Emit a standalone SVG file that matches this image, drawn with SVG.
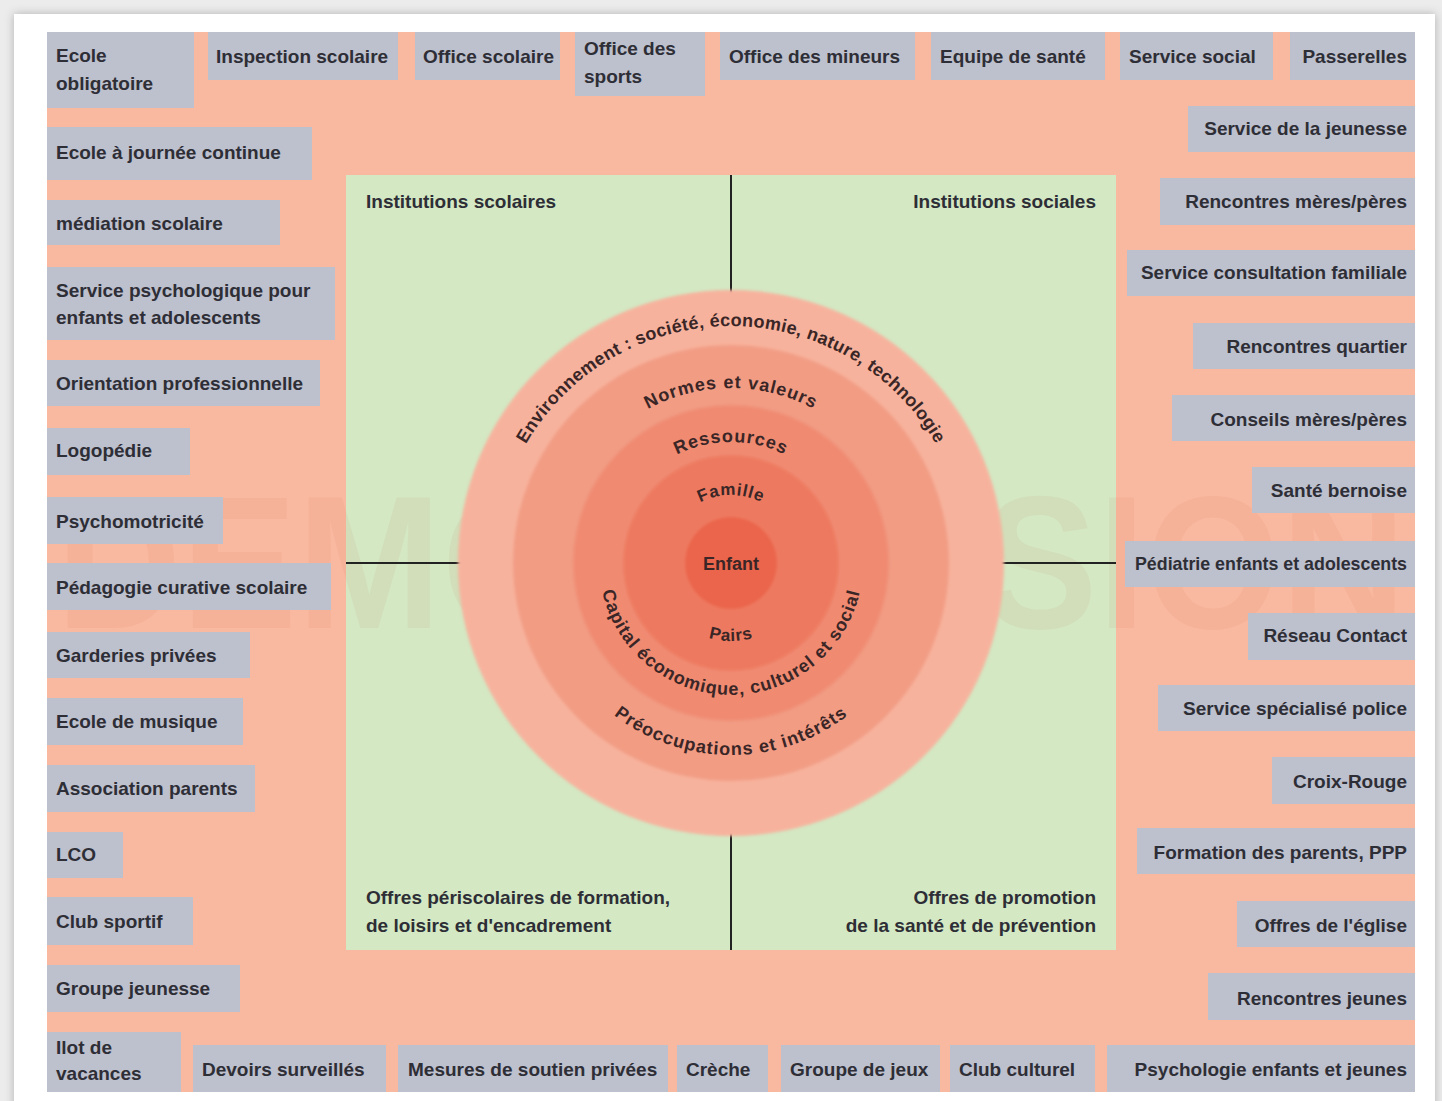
<svg xmlns="http://www.w3.org/2000/svg" width="1442" height="1101" viewBox="0 0 1442 1101">
  <defs>
    <style>
      .box rect { fill: #bdc0cd; }
      .box text { font-family: "Liberation Sans", Arial, sans-serif; font-weight: bold; font-size: 19px; fill: #2e2e36; }
      .box.r text { text-anchor: end; }
      .quad { font-family: "Liberation Sans", Arial, sans-serif; font-weight: bold; font-size: 19px; fill: #2e2e36; }
      .quad.r { text-anchor: end; }
      .ring-label { font-family: "Liberation Sans", Arial, sans-serif; font-weight: bold; font-size: 18px; fill: #3a2626; }
      .divider { stroke: #222; stroke-width: 2; fill: none; }
    </style>
    <filter id="cardShadow" x="-5%" y="-5%" width="110%" height="110%">
      <feDropShadow dx="0" dy="0" stdDeviation="5" flood-color="#000" flood-opacity="0.25"/>
    </filter>
    <filter id="soft" x="-10%" y="-10%" width="120%" height="120%">
      <feGaussianBlur stdDeviation="1.5"/>
    </filter>
    <!-- arcs centred on (731,563) for the curved ring captions -->
    <path id="arcEnv" d="M 494 563 A 237 237 0 0 1 968 563"/>
    <path id="arcNormes" d="M 556 563 A 175 175 0 0 1 906 563"/>
    <path id="arcRess" d="M 610 563 A 121 121 0 0 1 852 563"/>
    <path id="arcFam" d="M 663 563 A 68 68 0 0 1 799 563"/>
    <path id="arcPairs" d="M 653 563 A 78 78 0 0 0 809 563"/>
    <path id="arcCap" d="M 599 563 A 132 132 0 0 0 863 563"/>
    <path id="arcPreo" d="M 539 563 A 192 192 0 0 0 923 563"/>
  </defs>

  <!-- page and card -->
  <rect x="0" y="0" width="1442" height="1101" fill="#ececec"/>
  <rect x="14" y="14" width="1421" height="1100" fill="#ffffff" filter="url(#cardShadow)"/>

  <!-- salmon field and green centre panel -->
  <rect x="47" y="32" width="1368" height="1060" fill="#f9b9a0"/>
  <rect x="346" y="175" width="770" height="775" fill="#d3e8c3"/>

  <!-- faint watermark -->
  <text x="731" y="628" text-anchor="middle" font-family="Liberation Sans, Arial, sans-serif" font-weight="bold" font-size="190" textLength="1350" lengthAdjust="spacingAndGlyphs" fill="#c04a30" opacity="0.06">DEMO VERSION</text>

  <!-- quadrant dividers -->
  <g id="connectors">
    <line class="divider" x1="731" y1="175" x2="731" y2="950"/>
    <line class="divider" x1="346" y1="563" x2="1116" y2="563"/>
  </g>

  <!-- concentric rings -->
  <g id="rings" filter="url(#soft)">
    <circle cx="731" cy="563" r="273" fill="#f7b29d"/>
    <circle cx="731" cy="563" r="218" fill="#f29c84"/>
    <circle cx="731" cy="563" r="158" fill="#f08b72"/>
    <circle cx="731" cy="563" r="108" fill="#ed7a61"/>
    <circle cx="731" cy="563" r="46" fill="#ea654c"/>
  </g>

  <g id="ring-labels" class="ring-label">
    <text letter-spacing="0.3"><textPath href="#arcEnv" startOffset="50%" text-anchor="middle">Environnement : société, économie, nature, technologie</textPath></text>
    <text letter-spacing="1"><textPath href="#arcNormes" startOffset="50%" text-anchor="middle">Normes et valeurs</textPath></text>
    <text letter-spacing="1"><textPath href="#arcRess" startOffset="50%" text-anchor="middle">Ressources</textPath></text>
    <text font-size="17" letter-spacing="0.8"><textPath href="#arcFam" startOffset="50%" text-anchor="middle">Famille</textPath></text>
    <text x="731" y="570" text-anchor="middle">Enfant</text>
    <text font-size="17" letter-spacing="0.8"><textPath href="#arcPairs" startOffset="50%" text-anchor="middle">Pairs</textPath></text>
    <text letter-spacing="0.9"><textPath href="#arcCap" startOffset="50%" text-anchor="middle">Capital économique, culturel et social</textPath></text>
    <text letter-spacing="1"><textPath href="#arcPreo" startOffset="50%" text-anchor="middle">Préoccupations et intérêts</textPath></text>
  </g>

  <!-- quadrant headings -->
  <g id="quadrants">
    <text class="quad" x="366" y="208">Institutions scolaires</text>
    <text class="quad r" x="1096" y="208">Institutions sociales</text>
    <text class="quad" x="366" y="904">Offres périscolaires de formation,</text>
    <text class="quad" x="366" y="932">de loisirs et d'encadrement</text>
    <text class="quad r" x="1096" y="904">Offres de promotion</text>
    <text class="quad r" x="1096" y="932">de la santé et de prévention</text>
  </g>

  <!-- top row -->
  <g id="ecole-obligatoire" class="box"><rect x="47" y="32" width="147" height="76"/><text x="56" y="62">Ecole</text><text x="56" y="90">obligatoire</text></g>
  <g id="inspection-scolaire" class="box"><rect x="208" y="32" width="190" height="48"/><text x="216" y="63">Inspection scolaire</text></g>
  <g id="office-scolaire" class="box"><rect x="415" y="32" width="145" height="48"/><text x="423" y="63">Office scolaire</text></g>
  <g id="office-sports" class="box"><rect x="575" y="32" width="130" height="64"/><text x="584" y="55">Office des</text><text x="584" y="83">sports</text></g>
  <g id="office-mineurs" class="box"><rect x="720" y="32" width="195" height="48"/><text x="729" y="63">Office des mineurs</text></g>
  <g id="equipe-sante" class="box"><rect x="931" y="32" width="174" height="48"/><text x="940" y="63">Equipe de santé</text></g>
  <g id="service-social" class="box"><rect x="1120" y="32" width="153" height="48"/><text x="1129" y="63">Service social</text></g>
  <g id="passerelles" class="box r"><rect x="1290" y="32" width="125" height="48"/><text x="1407" y="63">Passerelles</text></g>

  <!-- right column -->
  <g id="service-jeunesse" class="box r"><rect x="1188" y="106" width="227" height="46"/><text x="1407" y="135">Service de la jeunesse</text></g>
  <g id="rencontres-meres-peres" class="box r"><rect x="1160" y="178" width="255" height="47"/><text x="1407" y="208">Rencontres mères/pères</text></g>
  <g id="consultation-familiale" class="box r"><rect x="1127" y="250" width="288" height="46"/><text x="1407" y="279" textLength="266" lengthAdjust="spacingAndGlyphs">Service consultation familiale</text></g>
  <g id="rencontres-quartier" class="box r"><rect x="1193" y="323" width="222" height="46"/><text x="1407" y="353">Rencontres quartier</text></g>
  <g id="conseils-meres-peres" class="box r"><rect x="1172" y="395" width="243" height="46"/><text x="1407" y="426">Conseils mères/pères</text></g>
  <g id="sante-bernoise" class="box r"><rect x="1252" y="467" width="163" height="46"/><text x="1407" y="497">Santé bernoise</text></g>
  <g id="pediatrie" class="box r"><rect x="1125" y="541" width="290" height="46"/><text x="1407" y="570" textLength="272" lengthAdjust="spacingAndGlyphs">Pédiatrie enfants et adolescents</text></g>
  <g id="reseau-contact" class="box r"><rect x="1248" y="613" width="167" height="47"/><text x="1407" y="642">Réseau Contact</text></g>
  <g id="service-police" class="box r"><rect x="1158" y="685" width="257" height="46"/><text x="1407" y="715">Service spécialisé police</text></g>
  <g id="croix-rouge" class="box r"><rect x="1272" y="757" width="143" height="47"/><text x="1407" y="788">Croix-Rouge</text></g>
  <g id="formation-parents" class="box r"><rect x="1137" y="828" width="278" height="46"/><text x="1407" y="859">Formation des parents, PPP</text></g>
  <g id="offres-eglise" class="box r"><rect x="1237" y="901" width="178" height="46"/><text x="1407" y="932">Offres de l'église</text></g>
  <g id="rencontres-jeunes" class="box r"><rect x="1208" y="973" width="207" height="47"/><text x="1407" y="1005">Rencontres jeunes</text></g>
  <g id="psychologie-enfants" class="box r"><rect x="1107" y="1045" width="308" height="47"/><text x="1407" y="1076">Psychologie enfants et jeunes</text></g>

  <!-- left column -->
  <g id="journee-continue" class="box"><rect x="47" y="127" width="265" height="53"/><text x="56" y="159">Ecole à journée continue</text></g>
  <g id="mediation-scolaire" class="box"><rect x="47" y="200" width="233" height="45"/><text x="56" y="230">médiation scolaire</text></g>
  <g id="service-psychologique" class="box"><rect x="47" y="267" width="288" height="73"/><text x="56" y="297">Service psychologique pour</text><text x="56" y="324">enfants et adolescents</text></g>
  <g id="orientation-pro" class="box"><rect x="47" y="360" width="273" height="46"/><text x="56" y="390">Orientation professionnelle</text></g>
  <g id="logopedie" class="box"><rect x="47" y="428" width="143" height="47"/><text x="56" y="457">Logopédie</text></g>
  <g id="psychomotricite" class="box"><rect x="47" y="497" width="176" height="47"/><text x="56" y="528">Psychomotricité</text></g>
  <g id="pedagogie-curative" class="box"><rect x="47" y="563" width="284" height="47"/><text x="56" y="594">Pédagogie curative scolaire</text></g>
  <g id="garderies" class="box"><rect x="47" y="632" width="203" height="46"/><text x="56" y="662">Garderies privées</text></g>
  <g id="ecole-musique" class="box"><rect x="47" y="698" width="196" height="47"/><text x="56" y="728">Ecole de musique</text></g>
  <g id="association-parents" class="box"><rect x="47" y="765" width="208" height="47"/><text x="56" y="795">Association parents</text></g>
  <g id="lco" class="box"><rect x="47" y="832" width="76" height="46"/><text x="56" y="861">LCO</text></g>
  <g id="club-sportif" class="box"><rect x="47" y="897" width="146" height="48"/><text x="56" y="928">Club sportif</text></g>
  <g id="groupe-jeunesse" class="box"><rect x="47" y="965" width="193" height="47"/><text x="56" y="995">Groupe jeunesse</text></g>
  <g id="ilot-vacances" class="box"><rect x="47" y="1032" width="134" height="60"/><text x="56" y="1054">Ilot de</text><text x="56" y="1080">vacances</text></g>

  <!-- bottom row -->
  <g id="devoirs-surveilles" class="box"><rect x="193" y="1045" width="193" height="47"/><text x="202" y="1076">Devoirs surveillés</text></g>
  <g id="mesures-soutien" class="box"><rect x="398" y="1045" width="270" height="47"/><text x="408" y="1076">Mesures de soutien privées</text></g>
  <g id="creche" class="box"><rect x="677" y="1045" width="91" height="47"/><text x="686" y="1076">Crèche</text></g>
  <g id="groupe-jeux" class="box"><rect x="781" y="1045" width="159" height="47"/><text x="790" y="1076">Groupe de jeux</text></g>
  <g id="club-culturel" class="box"><rect x="950" y="1045" width="145" height="47"/><text x="959" y="1076">Club culturel</text></g>
</svg>
